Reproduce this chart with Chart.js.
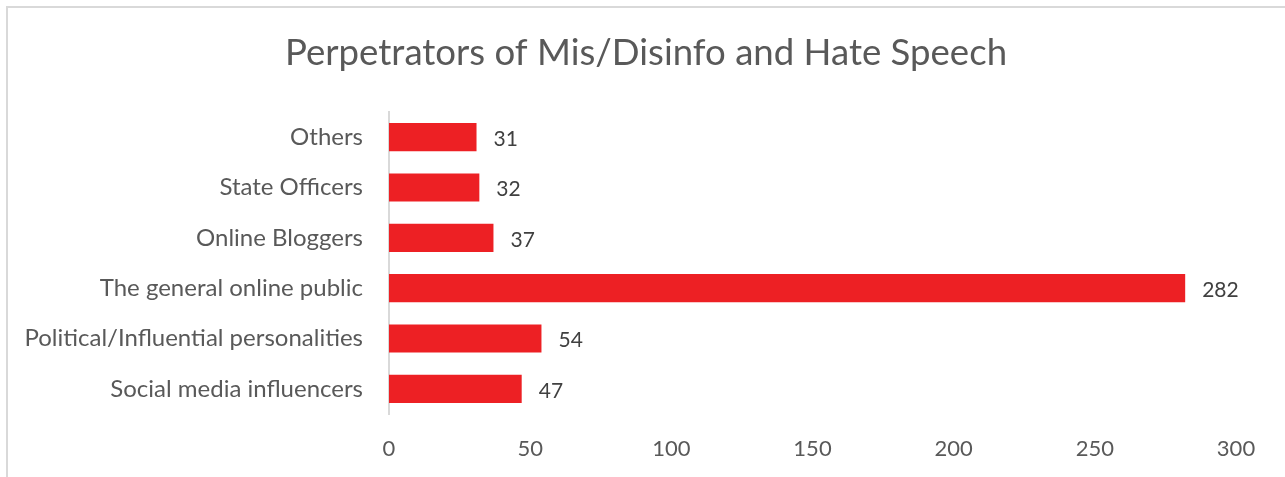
<!DOCTYPE html>
<html>
<head>
<meta charset="utf-8">
<title>Perpetrators of Mis/Disinfo and Hate Speech</title>
<script src="https://cdn.jsdelivr.net/npm/chart.js@4.4.1/dist/chart.umd.min.js"></script>
<style>
  html, body { margin: 0; padding: 0; background: #fff; overflow: hidden; }
  .frame {
    position: absolute; left: 6px; top: 6px;
    width: 1400px; height: 600px;
    border: 2px solid #d9d9d9; box-sizing: border-box;
  }
  .wrap { position: absolute; left: 0; top: 0; width: 1285px; height: 477px; }
</style>
</head>
<body>
<div class="frame"></div>
<div class="wrap"><canvas id="perpChart"></canvas></div>
<script>
// Categories (top to bottom) and counts
const chartTitle = "Perpetrators of Mis/Disinfo and Hate Speech";
const categories = [
  "Others",
  "State Officers",
  "Online Bloggers",
  "The general online public",
  "Political/Influential personalities",
  "Social media influencers",
];
const counts = [31, 32, 37, 282, 54, 47];
const xTicks = [0, 50, 100, 150, 200, 250, 300];

const FONT = "Lato, 'Open Sans', sans-serif";

// Title sits over the whole frame, not just the plot area
const frameTitle = {
  id: "frameTitle",
  afterDraw(chart) {
    const ctx = chart.ctx;
    ctx.save();
    ctx.font = "36.6px " + FONT;
    ctx.fillStyle = "#595959";
    ctx.textAlign = "center";
    ctx.textBaseline = "alphabetic";
    ctx.fillText(chartTitle, 646, 65);
    ctx.restore();
  },
};

// Print the value just past the end of each bar
const valueLabels = {
  id: "valueLabels",
  afterDatasetsDraw(chart) {
    const ctx = chart.ctx;
    const meta = chart.getDatasetMeta(0);
    ctx.save();
    ctx.font = "21px " + FONT;
    ctx.fillStyle = "#404040";
    ctx.textAlign = "left";
    ctx.textBaseline = "middle";
    meta.data.forEach((bar, i) => {
      ctx.fillText(String(counts[i]), bar.x + 17, bar.y + 2);
    });
    ctx.restore();
  },
};

const ctx = document.getElementById("perpChart").getContext("2d");
const perpChart = new Chart(ctx, {
  type: "bar",
  data: {
    labels: categories,
    datasets: [
      {
        data: counts,
        backgroundColor: "#ed2024",
        borderWidth: 0,
        categoryPercentage: 1,
        barPercentage: 0.56,
      },
    ],
  },
  options: {
    indexAxis: "y",
    responsive: true,
    maintainAspectRatio: false,
    animation: false,
    layout: { padding: { top: 112, right: 49, bottom: 0, left: 0 } },
    plugins: {
      legend: { display: false },
      tooltip: { enabled: false },
      title: { display: false },
    },
    scales: {
      x: {
        min: 0,
        max: 300,
        afterBuildTicks(scale) {
          scale.ticks = xTicks.map((v) => ({ value: v }));
        },
        afterFit(scale) {
          scale.height = 63;
        },
        grid: { display: false, drawTicks: false },
        border: { display: false },
        ticks: {
          color: "#595959",
          padding: 22,
          font: { family: FONT, size: 22 },
        },
      },
      y: {
        afterFit(scale) {
          scale.width = 389;
        },
        grid: { display: false, drawTicks: false },
        border: { display: true, color: "#d9d9d9", width: 2 },
        ticks: {
          color: "#595959",
          padding: 26,
          font: { family: FONT, size: 24 },
        },
      },
    },
  },
  plugins: [valueLabels, frameTitle],
});
</script>
</body>
</html>
